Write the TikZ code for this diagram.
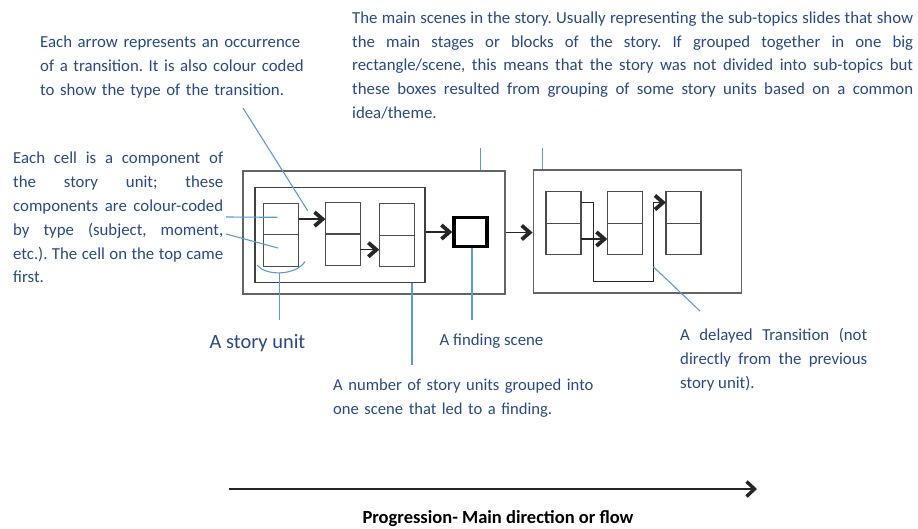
\documentclass[tikz,border=0pt]{standalone}
\usepackage{fontspec}
\setmainfont{Carlito}
\usepackage{xcolor}
\usepackage{tikz}
\usetikzlibrary{arrows.meta,positioning}
\definecolor{notetext}{RGB}{40,72,135}
\definecolor{leadblue}{RGB}{91,155,213}
\definecolor{boxgray}{RGB}{100,100,100}

\begin{document}
\frenchspacing
\begin{tikzpicture}[x=1pt,y=-1pt,
    cell/.style={rectangle, draw=black!70, line width=1.2pt, minimum width=35pt, minimum height=31.5pt, inner sep=0pt, outer sep=0pt},
    note/.style={font=\fontsize{16.8}{23.8}\selectfont, text=notetext, inner sep=0pt},
    trans/.style={draw=black!85, line width=1.4pt, -{Straight Barb[length=8pt,width=14pt,line width=3.8pt]}},
    lead/.style={draw=leadblue, line width=1.1pt}]
    \useasboundingbox (0,0) rectangle (918,528);

    % scenes and the group of story units
    \node (sc1) [rectangle, draw=boxgray, line width=1.8pt, minimum width=262pt, minimum height=123pt] at (374,232.5) {};
    \node (sc2) [rectangle, draw=boxgray, line width=1.8pt, minimum width=208pt, minimum height=123pt] at (637.5,231.8) {};
    \node (grp) [rectangle, draw=black!75, line width=1.8pt, minimum width=170pt, minimum height=95pt] at (339.9,235) {};
    \node (fnd) [rectangle, draw=black, line width=3.6pt, minimum width=33pt, minimum height=29pt] at (470.6,232) {};

    % story units, two cells each
    \node (u1a) [cell] at (281.2,219.1) {};
    \node (u1b) [cell, below=0pt of u1a] {};
    \node (u2a) [cell] at (342.9,218.2) {};
    \node (u2b) [cell, below=0pt of u2a] {};
    \node (u3a) [cell] at (396.7,219.4) {};
    \node (u3b) [cell, below=0pt of u3a] {};
    \node (u4a) [cell] at (563.5,207.5) {};
    \node (u4b) [cell, below=0pt of u4a] {};
    \node (u5a) [cell] at (624.8,207.5) {};
    \node (u5b) [cell, below=0pt of u5a] {};
    \node (u6a) [cell] at (683.4,207.5) {};
    \node (u6b) [cell, below=0pt of u6a] {};

    % transitions
    \draw [trans] (u1a.east) -- (u1a.east -| u2a.west);
    \draw [trans] (u2b.east) -- (u2b.east -| u3b.west);
    \draw [trans] (grp.east |- fnd.west) -- (fnd.west);
    \draw [trans] (sc1.east) -- (sc1.east -| sc2.west);
    \draw [trans] (u4b.east) -- (u4b.east -| u5b.west);
    \coordinate (d1) at (593.3,281.7);
    \coordinate (d2) at (653.3,281.7);
    \draw [trans] ([yshift=5pt]u4a.east) -| (d1) -- (d2) |- ([yshift=5pt]u6a.west);

    % notes
    \node (tarrow) [note, text width=275pt, align=left, anchor=north west] at (40,36) {Each arrow represents an occurrence\\ of a transition. It is also colour coded\\ to show the type of the transition.};
    \node (tscene) [note, text width=561pt, align=justify, anchor=north west] at (352,11.5) {The main scenes in the story. Usually representing the sub-topics slides that show\linebreak the main stages or blocks of the story. If grouped together in one big\linebreak rectangle/scene, this means that the story was not divided into sub-topics but\linebreak these boxes resulted from grouping of some story units based on a common\linebreak idea/theme.};
    \node (tcell) [note, text width=210pt, align=justify, anchor=north west] at (13,152) {Each cell is a component of\linebreak the story unit; these\linebreak components are colour-coded\linebreak by type (subject, moment,\linebreak etc.). The cell on the top came\linebreak first.};
    \node (tunit) [note, font=\fontsize{20.4}{24}\selectfont] at (257.5,343) {A story unit};
    \node (tfind) [note] at (491.5,341) {A finding scene};
    \node (tgroup) [note, font=\fontsize{16.6}{23.8}\selectfont, text width=290pt, align=left, anchor=north west] at (333,379) {A number of story units grouped into\\ one scene that led to a finding.};
    \node (tdelay) [note, text width=187pt, align=justify, anchor=north west] at (680,328) {A delayed Transition (not\linebreak directly from the previous\linebreak story unit).};
    \node (tprog) [inner sep=0pt, font=\fontsize{18.5}{20}\selectfont\bfseries] at (498,519) {Progression- Main direction or flow};

    % leader lines
    \coordinate (l1) at (480.7,148);
    \coordinate (l2) at (542.7,148);
    \draw [lead] (l1) -- (l1 |- sc1.north);
    \draw [lead] (l2) -- (l2 |- sc2.north);
    \coordinate (la) at (243,108);
    \coordinate (lb) at (307.7,210.7);
    \draw [lead] (la) -- (lb);
    \coordinate (lc1) at (226,217);
    \coordinate (lc2) at (277.7,217.3);
    \coordinate (lc3) at (226,234);
    \coordinate (lc4) at (278,248);
    \draw [lead] (lc1) -- (lc2);
    \draw [lead] (lc3) -- (lc4);
    \coordinate (arc0) at (257.3,265);
    \coordinate (arc1) at (305,261.7);
    \draw [lead] (arc0) .. controls (265,276) and (295,276) .. (arc1);
    \coordinate (lu) at (279.3,273);
    \draw [lead] (lu) -- (279.3,320);
    \coordinate (lg) at (412,365);
    \draw [lead] (lg |- grp.south) -- (lg);
    \coordinate (lf) at (472,320);
    \draw [lead] (lf |- fnd.south) -- (lf);
    \coordinate (ld1) at (653.3,266.7);
    \coordinate (ld2) at (700,311);
    \draw [lead] (ld1) -- (ld2);

    % main direction
    \coordinate (p0) at (229,489);
    \coordinate (p1) at (757,489);
    \draw [draw=black!85, line width=1.6pt, -{Straight Barb[length=8pt,width=15pt,line width=3.4pt]}] (p0) -- (p1);
\end{tikzpicture}
\end{document}
